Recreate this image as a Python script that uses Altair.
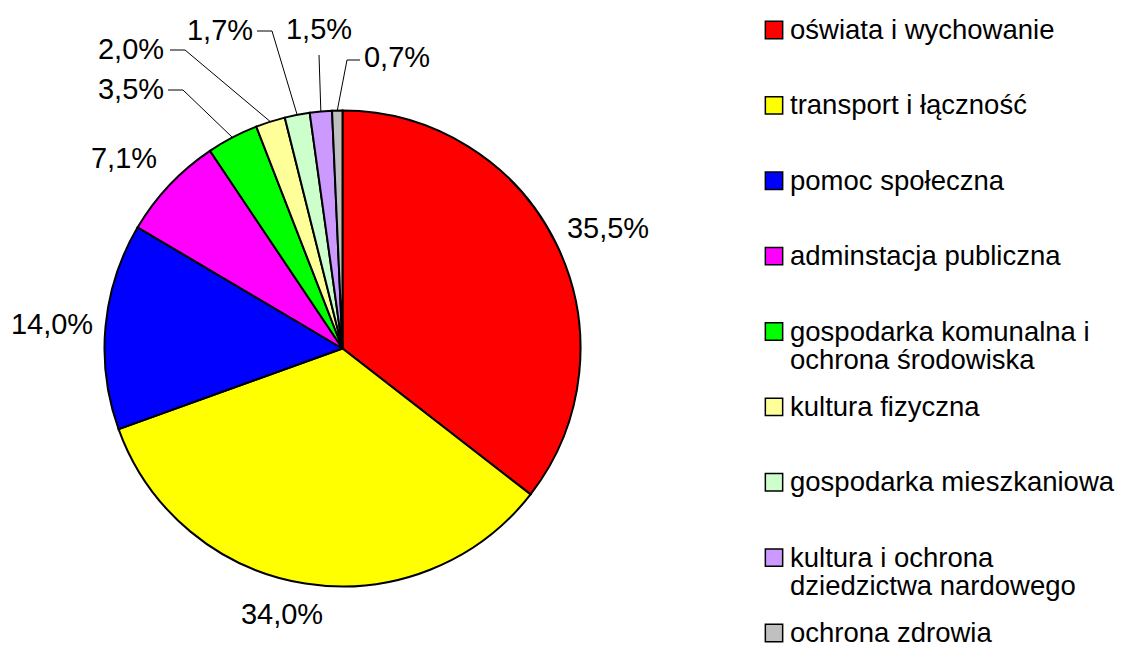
import altair as alt
import pandas as pd
import numpy as np

# ---------------- data ----------------
categories = [
    "oświata i wychowanie",
    "transport i łączność",
    "pomoc społeczna",
    "adminstacja publiczna",
    "gospodarka komunalna i ochrona środowiska",
    "kultura fizyczna",
    "gospodarka mieszkaniowa",
    "kultura i ochrona dziedzictwa nardowego",
    "ochrona zdrowia",
]
values = [35.5, 34.0, 14.0, 7.1, 3.5, 2.0, 1.7, 1.5, 0.7]
value_labels = ["35,5%", "34,0%", "14,0%", "7,1%", "3,5%", "2,0%", "1,7%", "1,5%", "0,7%"]
legend_labels = [
    "oświata i wychowanie",
    "transport i łączność",
    "pomoc społeczna",
    "adminstacja publiczna",
    "gospodarka komunalna i\nochrona środowiska",
    "kultura fizyczna",
    "gospodarka mieszkaniowa",
    "kultura i ochrona\ndziedzictwa nardowego",
    "ochrona zdrowia",
]
colors = ["#FF0000", "#FFFF00", "#0000FF", "#FF00FF", "#00FF00",
          "#FFFF99", "#CCFFCC", "#CC99FF", "#C0C0C0"]

# ---------------- layout (styling) ----------------
W, H = 1123, 640
CX, CY = 334.5, 340.5      # pie centre inside the plot area
R = 238                    # pie radius
FONT = "Liberation Sans"
FS = 29
LEG_FS = 27.5

# label centres, offset from pie centre (hand placed like in the original)
label_offsets = [(265.5, -119.5), (-60.5, 266.5), (-290.5, -23.5), (-218.5, -189.5),
                 (-211.5, -258.5), (-211.5, -298.5), (-122.5, -318.0), (-23.5, -318.5),
                 (54.5, -290.5)]
# leader line bends/ends (offsets from centre) for the small slices
leader_points = {
    4: [(-159.5, -258.5), (-174.5, -258.5)],
    5: [(-157.5, -298.5), (-172.5, -298.5)],
    6: [(-70.5, -317.5), (-85.5, -317.5)],
    7: [(-23.5, -293.5)],
    8: [(4.5, -288.5), (17.5, -288.5)],
}

# ---------------- tables ----------------
total = float(sum(values))
vals = np.array(values)
start = np.cumsum(vals) - vals
mid = (start + vals / 2) / total * 2 * np.pi

pie_df = pd.DataFrame({"cat": categories, "value": values, "idx": range(len(values))})

lab_df = pd.DataFrame({
    "lx": [o[0] for o in label_offsets],
    "ly": [o[1] for o in label_offsets],
    "label": value_labels,
})

rows = []
for i, pts in leader_points.items():
    ex, ey = R * np.sin(mid[i]), -R * np.cos(mid[i])
    seq = [(ex, ey)] + pts
    for k, (px, py) in enumerate(seq):
        rows.append({"seg": i, "o": k, "px": px, "py": py})
line_df = pd.DataFrame(rows)

leg_df = pd.DataFrame({"cat": categories, "txt": legend_labels})

xs = alt.Scale(domain=[-CX, W - CX], nice=False, zero=False)
ys = alt.Scale(domain=[-CY, H - CY], nice=False, zero=False, reverse=True)
color_scale = alt.Scale(domain=categories, range=colors)

arc = alt.Chart(pie_df).mark_arc(radius=R, stroke="black", strokeWidth=2).encode(
    theta=alt.Theta("value:Q", stack=True),
    order=alt.Order("idx:Q"),
    color=alt.Color("cat:N", scale=color_scale, legend=None),
    x=alt.value(CX),
    y=alt.value(CY),
)

leaders = alt.Chart(line_df).mark_line(color="black", strokeWidth=1).encode(
    x=alt.X("px:Q", scale=xs, axis=None),
    y=alt.Y("py:Q", scale=ys, axis=None),
    detail="seg:N",
    order="o:Q",
)

labels = alt.Chart(lab_df).mark_text(font=FONT, fontSize=FS, color="black").encode(
    x=alt.X("lx:Q", scale=xs, axis=None),
    y=alt.Y("ly:Q", scale=ys, axis=None),
    text="label:N",
)

pie = alt.layer(arc, leaders, labels)

leg_y = alt.Y("cat:N", sort=categories, axis=None,
              scale=alt.Scale(type="point", range=[22, 625], padding=0))

leg_sq = alt.Chart(leg_df).mark_square(size=300, filled=True, stroke="black",
                                       strokeWidth=1.5, opacity=1).encode(
    x=alt.value(766),
    y=leg_y,
    color=alt.Color("cat:N", scale=color_scale, legend=None),
)

leg_txt = alt.Chart(leg_df).mark_text(font=FONT, fontSize=LEG_FS, align="left",
                                      baseline="alphabetic", dy=9, lineBreak="\n",
                                      lineHeight=28, color="black").encode(
    x=alt.value(782),
    y=leg_y,
    text="txt:N",
)

legend = alt.layer(leg_sq, leg_txt)

chart = alt.layer(pie, legend).resolve_scale(x="independent", y="independent").properties(
    width=W, height=H, padding=0, autosize=alt.AutoSizeParams(type="none"),
    background="white",
).configure_view(stroke=None)

chart.save("out.html", embed_options={"renderer": "svg", "actions": False})
